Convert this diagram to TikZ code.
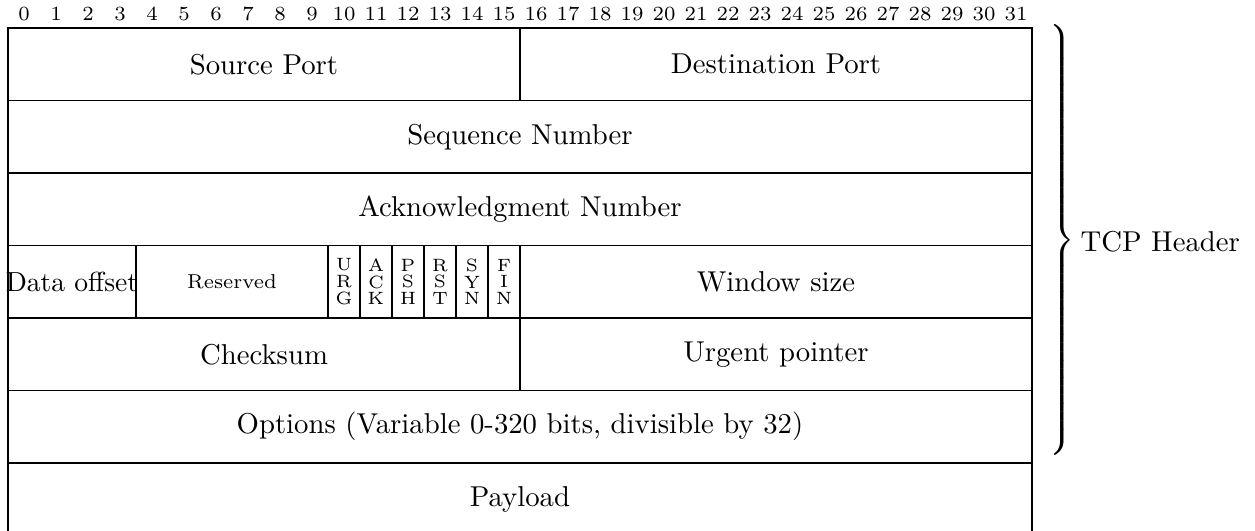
\documentclass[tikz,border=0pt]{standalone}
\usepackage{fontspec}
\begin{document}
\begin{tikzpicture}[x=0.348pt,y=-0.348pt,
  field/.style={draw,line width=0.45pt,anchor=north west,inner sep=0pt,outer sep=0pt,
    minimum height=25.23pt,align=center},
  main/.style={font=\fontsize{10}{12}\selectfont},
  bitno/.style={font=\fontsize{7}{8}\selectfont,inner sep=0pt},
  flag/.style={field,minimum width=11.136pt,font=\fontsize{6.2}{5.8}\selectfont},
]
\useasboundingbox (0,0) rectangle (1255,531);
% bit numbers across the top
\foreach \i in {0,...,31}
  \node[bitno] (b\i) at ({8+32*\i+16},14) {\i};
% row 1
\node[field,main,minimum width=16*11.136pt] (src) at (8,28) {Source Port};
\node[field,main,minimum width=16*11.136pt] (dst) at (520,28) {Destination Port};
% rows 2 and 3
\node[field,main,minimum width=32*11.136pt] (seq) at (8,100.5) {Sequence Number};
\node[field,main,minimum width=32*11.136pt] (ack) at (8,173) {Acknowledgment Number};
% row 4: offset, reserved bits, flags, window
\node[draw,line width=0.45pt,anchor=north west,inner sep=0pt,outer sep=0pt,minimum height=25.23pt,
  font=\fontsize{9.6}{11}\selectfont] (off) at (8,245.5) {\makebox[44.544pt][c]{Data offset}};
\node[field,minimum width=6*11.136pt,font=\fontsize{7}{8}\selectfont] (res) at (136,245.5) {Reserved};
\node[flag] (urg) at (328,245.5) {U\\R\\G};
\node[flag] (fack) at (360,245.5) {A\\C\\K};
\node[flag] (psh) at (392,245.5) {P\\S\\H};
\node[flag] (rst) at (424,245.5) {R\\S\\T};
\node[flag] (syn) at (456,245.5) {S\\Y\\N};
\node[flag] (fin) at (488,245.5) {F\\I\\N};
\node[field,main,minimum width=16*11.136pt] (win) at (520,245.5) {Window size};
% row 5
\node[field,main,minimum width=16*11.136pt] (chk) at (8,318) {Checksum};
\node[field,main,minimum width=16*11.136pt] (urp) at (520,318) {Urgent pointer};
% row 6 and payload
\node[field,main,minimum width=32*11.136pt] (opt) at (8,390.5) {Options (Variable 0-320 bits, divisible by 32)};
\node[field,main,minimum width=32*11.136pt] (pay) at (8,463) {Payload};
% header brace and label
\node[anchor=west,inner sep=0pt] (brace) at (1045,240)
  {$\left.\vrule height 72.2pt depth 72.2pt width 0pt\right\}$};
\node[anchor=base west,inner sep=0pt,main] (hdr) at (1080,252) {TCP Header};
\end{tikzpicture}
\end{document}
